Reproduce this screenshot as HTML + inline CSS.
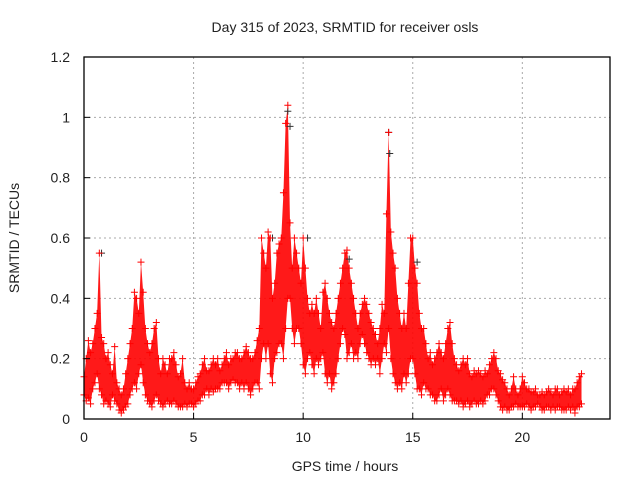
<!DOCTYPE html>
<html><head><meta charset="utf-8"><style>
body{margin:0;background:#fff}
svg{display:block;font-family:"Liberation Sans",sans-serif}
</style></head><body>
<svg id="c" width="640" height="480">
<text x="345" y="32" text-anchor="middle" font-size="14" fill="#222">Day 315 of 2023, SRMTID for receiver osls</text>
<text x="345" y="471" text-anchor="middle" font-size="14" fill="#222">GPS time / hours</text>
<text transform="translate(19,238) rotate(-90)" text-anchor="middle" font-size="14" fill="#222">SRMTID / TECUs</text>
<g id="grid"></g><g id="band"></g><g id="marks"></g><g id="axes"></g>
</svg>
<script>
const xTicks=[0,5,10,15,20];
const yTicks=[0,0.2,0.4,0.6,0.8,1,1.2];
const yTickLabels=["0","0.2","0.4","0.6","0.8","1","1.2"];
const tStart=0, tStep=0.1;
const hiVals=[.14,.2,.26,.22,.25,.3,.35,.55,.27,.25, .2,.22,.18,.15,.24,.12,.1,.08,.1,.15,
.2,.25,.3,.42,.4,.35,.52,.42,.3,.25, .22,.25,.3,.32,.2,.15,.2,.18,.15,.2,
.2,.22,.18,.14,.15,.2,.12,.1,.12,.1, .1,.12,.14,.15,.18,.2,.16,.16,.18,.2,
.18,.2,.16,.18,.2,.22,.18,.2,.2,.22, .22,.2,.2,.22,.24,.22,.2,.2,.22,.26,
.3,.6,.55,.5,.62,.6,.4,.45,.55,.58, .6,.75,.98,1.04,.65,.5,.6,.55,.5,.45,
.6,.5,.4,.35,.38,.35,.4,.35,.3,.42, .45,.4,.35,.32,.3,.35,.4,.45,.5,.55,
.56,.5,.45,.4,.35,.3,.35,.38,.4,.38, .35,.32,.3,.28,.25,.3,.38,.35,.68,.95,
.62,.55,.5,.4,.35,.3,.35,.3,.45,.6, .6,.5,.45,.35,.3,.3,.25,.2,.22,.18,
.2,.22,.25,.22,.2,.25,.3,.32,.25,.2, .18,.16,.18,.2,.18,.2,.15,.14,.16,.15,
.16,.15,.14,.16,.15,.18,.2,.22,.2,.16, .15,.13,.12,.1,.08,.1,.14,.1,.08,.1,
.14,.12,.1,.1,.09,.09,.1,.08,.08,.09, .08,.09,.1,.09,.08,.1,.1,.08,.09,.1,
.09,.1,.08,.1,.1,.12,.14,.15];
const loVals=[.08,.06,.07,.05,.1,.12,.15,.1,.08,.05, .06,.05,.04,.08,.06,.05,.03,.02,.03,.04,
.05,.08,.1,.12,.1,.15,.18,.12,.08,.06, .05,.04,.06,.08,.06,.05,.04,.05,.06,.05,
.05,.06,.05,.04,.04,.04,.05,.04,.05,.05, .04,.05,.06,.06,.08,.08,.1,.08,.1,.09,
.1,.1,.1,.12,.12,.12,.1,.12,.13,.12, .12,.1,.12,.1,.12,.1,.08,.1,.12,.12,
.1,.2,.25,.2,.25,.15,.12,.2,.22,.25, .25,.2,.3,.4,.4,.3,.25,.3,.3,.25,
.18,.15,.2,.22,.18,.15,.2,.18,.2,.22, .15,.12,.15,.1,.12,.15,.2,.25,.3,.28,
.2,.22,.25,.2,.22,.2,.25,.28,.25,.22, .2,.18,.2,.18,.2,.15,.2,.25,.22,.3,
.2,.15,.12,.1,.12,.1,.15,.12,.15,.2, .2,.15,.1,.1,.08,.12,.1,.1,.08,.08,
.06,.06,.08,.1,.06,.08,.1,.08,.06,.06, .06,.05,.06,.04,.05,.06,.04,.05,.06,.05,
.05,.06,.05,.06,.08,.08,.1,.1,.08,.06, .04,.03,.04,.03,.03,.04,.04,.05,.04,.04,
.04,.04,.05,.04,.03,.04,.04,.05,.04,.03, .03,.04,.04,.03,.04,.03,.04,.04,.03,.03,
.03,.04,.03,.04,.02,.04,.04,.05];
const grayT=[0.8,9.3,9.4,13.9,13.95,12.1,10.2,15.2,8.6];
const grayV=[0.55,1.02,0.97,0.95,0.88,0.53,0.6,0.52,0.6];
const L=84,R=610,T=57,B=419,xMax=24,yMax=1.2;
const xs=t=>L+(R-L)*t/xMax, ys=v=>B-(B-T)*v/yMax;
const NS="http://www.w3.org/2000/svg";
function mk(tag,attrs,parent){const e=document.createElementNS(NS,tag);for(const k in attrs)e.setAttribute(k,attrs[k]);document.getElementById(parent).appendChild(e);return e;}
xTicks.forEach(t=>{
 if(t>0){const g=mk('line',{x1:xs(t),x2:xs(t),y1:T,y2:B,stroke:'#aaa','stroke-dasharray':'2,3'},'grid');
 
 }
 const tk=mk('line',{x1:xs(t),x2:xs(t),y1:B,y2:B-6,stroke:'#000'},'axes');
 
 
 const lb=mk('text',{x:xs(t),y:B+23,'text-anchor':'middle','font-size':14,fill:'#222'},'axes');lb.textContent=t;
 
 
});
yTicks.forEach((v,i)=>{
 if(v>0&&v<yMax){const g=mk('line',{x1:L,x2:R,y1:ys(v),y2:ys(v),stroke:'#aaa','stroke-dasharray':'2,3'},'grid');
 
 }
 const tk=mk('line',{x1:L,x2:L+6,y1:ys(v),y2:ys(v),stroke:'#000'},'axes');
 
 
 const lb=mk('text',{x:L-14,y:ys(v)+5,'text-anchor':'end','font-size':14,fill:'#222'},'axes');lb.textContent=yTickLabels[i];
 
 
});
const fr=mk('rect',{x:L,y:T,width:R-L,height:B-T,fill:'none',stroke:'#000','stroke-width':1.3},'axes');


let pts=[];
hiVals.forEach((v,i)=>pts.push(xs(tStart+i*tStep)+','+ys(v)));
for(let i=loVals.length-1;i>=0;i--)pts.push(xs(tStart+i*tStep)+','+ys(loVals[i]));
const band=mk('polygon',{points:pts.join(' '),fill:'#f00','fill-opacity':0.9},'band');


function plus(x,y,c,name){
 const p=mk('path',{d:`M${x-3.5},${y}h7M${x},${y-3.5}v7`,stroke:c,'stroke-width':1},'marks');
 
 
}
grayT.forEach((t,i)=>plus(xs(t),ys(grayV[i]),'#333','gray-point'));
hiVals.forEach((v,i)=>plus(xs(tStart+i*tStep),ys(v),'#f00','red-point-high'));
loVals.forEach((v,i)=>plus(xs(tStart+i*tStep),ys(v),'#f00','red-point-low'));
</script>
</body></html>
